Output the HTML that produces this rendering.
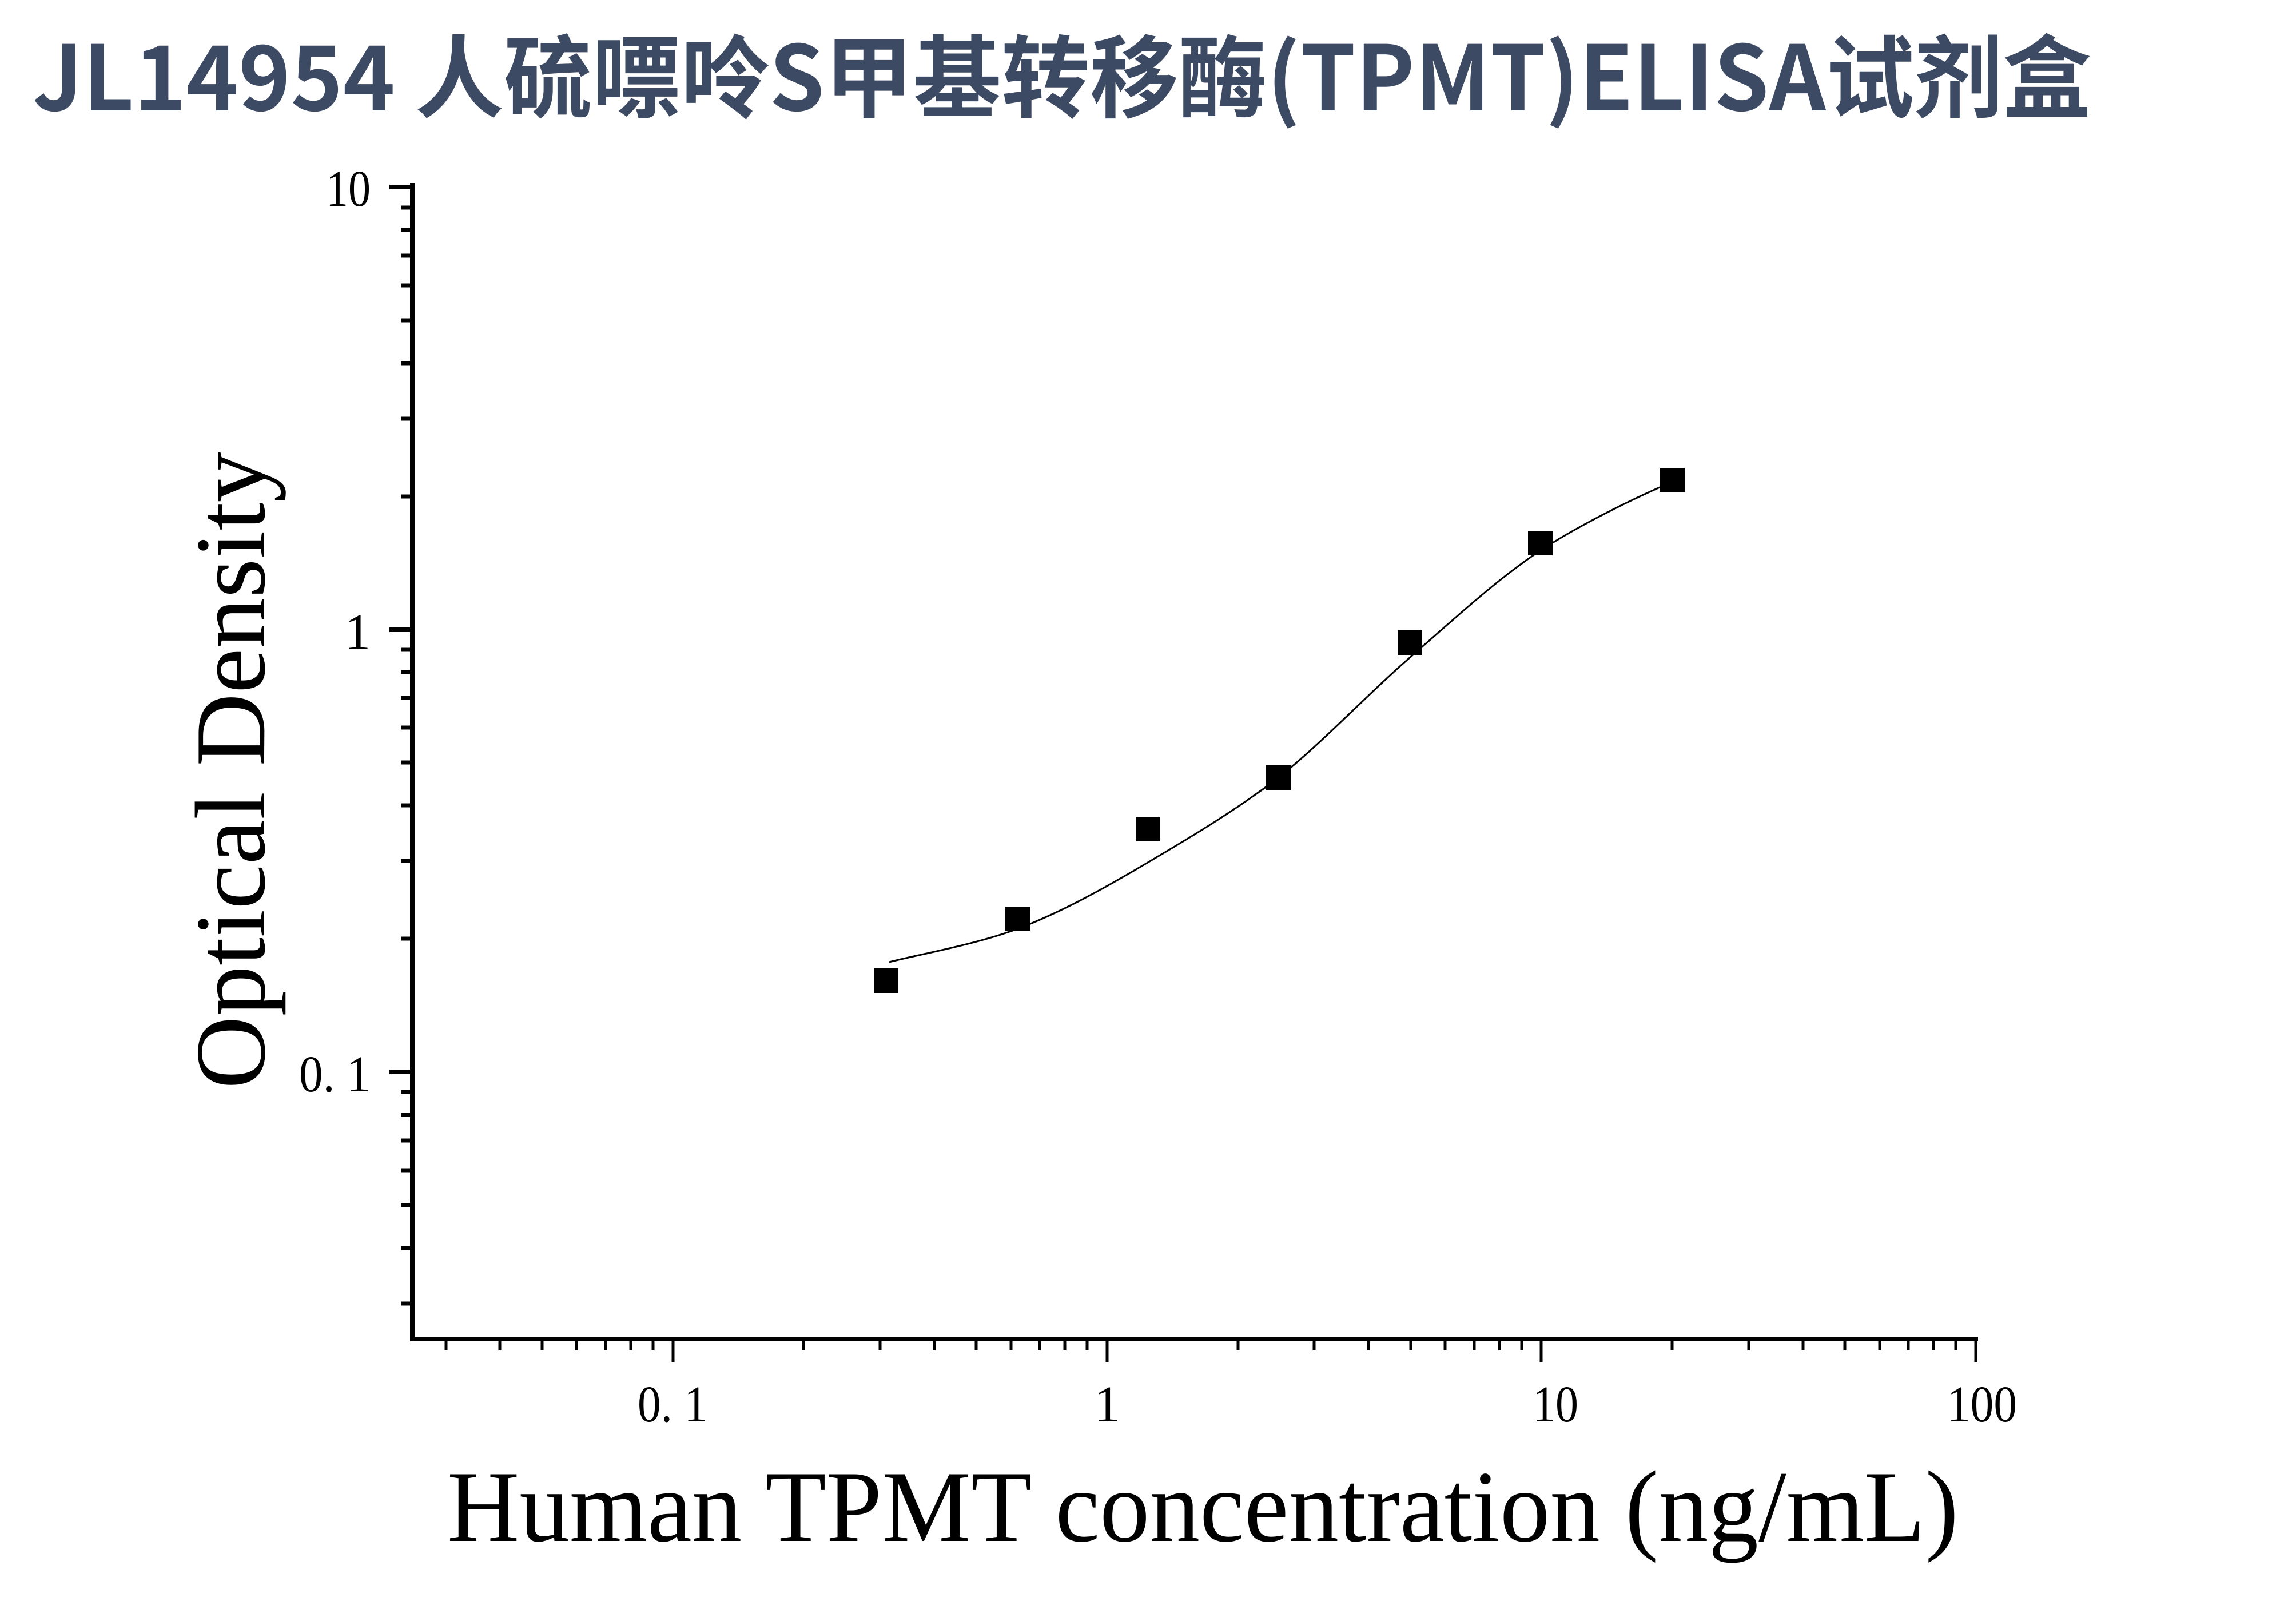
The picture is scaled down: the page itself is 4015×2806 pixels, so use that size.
<!DOCTYPE html>
<html><head><meta charset="utf-8"><style>
html,body{margin:0;padding:0;background:#fff;}
svg{display:block;}
</style></head><body>
<svg width="4015" height="2806" viewBox="0 0 4015 2806" xmlns="http://www.w3.org/2000/svg">
<rect width="4015" height="2806" fill="#fff"/>
<text x="57" y="193" font-family="'Noto Sans CJK SC','WenQuanYi Zen Hei',sans-serif" font-weight="bold" font-size="157" fill="#3d4a63" textLength="3600" lengthAdjust="spacingAndGlyphs">JL14954 人硫嘌呤S甲基转移酶(TPMT)ELISA试剂盒</text>

<g stroke="#000" fill="none">
<line x1="721" y1="320" x2="721" y2="2345" stroke-width="8"/>
<line x1="717" y1="2341" x2="3459" y2="2341" stroke-width="8"/>
<path d="M681 327H721M681 1101H721M681 1874H721" stroke-width="8"/>
<path stroke-width="7" d="M701 363H721M701 402H721M701 447H721M701 499H721M701 560H721M701 635H721M701 732H721M701 868H721
M701 1136H721M701 1175H721M701 1220H721M701 1272H721M701 1333H721M701 1408H721M701 1505H721M701 1641H721
M701 1909H721M701 1949H721M701 1994H721M701 2046H721M701 2107H721M701 2182H721M701 2279H721"/>
<path stroke-width="5" d="M1177 2341V2381M1936 2341V2381M2695 2341V2381M3455 2341V2381"/>
<path stroke-width="5" d="M780 2341V2361M874 2341V2361M948 2341V2361M1008 2341V2361M1059 2341V2361M1103 2341V2361M1142 2341V2361
M1405 2341V2361M1539 2341V2361M1634 2341V2361M1707 2341V2361M1768 2341V2361M1818 2341V2361M1862 2341V2361M1901 2341V2361
M2165 2341V2361M2298 2341V2361M2393 2341V2361M2467 2341V2361M2527 2341V2361M2578 2341V2361M2622 2341V2361M2661 2341V2361
M2924 2341V2361M3058 2341V2361M3153 2341V2361M3226 2341V2361M3287 2341V2361M3337 2341V2361M3381 2341V2361M3420 2341V2361"/>
<path stroke-width="3" d="M1555 1682 C1600 1670 1704 1652 1779 1624 C1854 1596 1931 1553 2007 1508 C2083 1463 2159 1418 2235 1360 C2311 1300 2389 1216 2465 1150 C2541 1084 2616 1014 2693 963 C2770 912 2886 858 2924 843"/>
</g>
<g fill="#000">
<rect x="1528" y="1693" width="43" height="43"/>
<rect x="1758" y="1585" width="43" height="43"/>
<rect x="1986" y="1428" width="43" height="43"/>
<rect x="2214" y="1338" width="43" height="43"/>
<rect x="2444" y="1102" width="43" height="43"/>
<rect x="2672" y="928" width="43" height="43"/>
<rect x="2903" y="818" width="43" height="43"/>
</g>
<g font-family="'Liberation Serif',serif" font-size="90" fill="#000" text-anchor="end">
<text x="648" y="360" textLength="78" lengthAdjust="spacingAndGlyphs">10</text>
<text x="648" y="1135">1</text>
<text x="648" y="1908" textLength="125" lengthAdjust="spacingAndGlyphs">0. 1</text>
</g>
<g font-family="'Liberation Serif',serif" font-size="90" fill="#000" text-anchor="middle">
<text x="1176" y="2485" textLength="122" lengthAdjust="spacingAndGlyphs">0. 1</text>
<text x="1936" y="2485">1</text>
<text x="2720" y="2485" textLength="80" lengthAdjust="spacingAndGlyphs">10</text>
<text x="3466" y="2485" textLength="122" lengthAdjust="spacingAndGlyphs">100</text>
</g>
<text x="782" y="2694" font-family="'Liberation Serif',serif" font-size="178" fill="#000" textLength="2643" lengthAdjust="spacingAndGlyphs">Human TPMT concentration (ng/mL)</text>
<text transform="translate(462,1904) rotate(-90)" x="0" y="0" font-family="'Liberation Serif',serif" font-size="175" fill="#000" textLength="1114" lengthAdjust="spacingAndGlyphs">Optical Density</text>
</svg>
</body></html>
